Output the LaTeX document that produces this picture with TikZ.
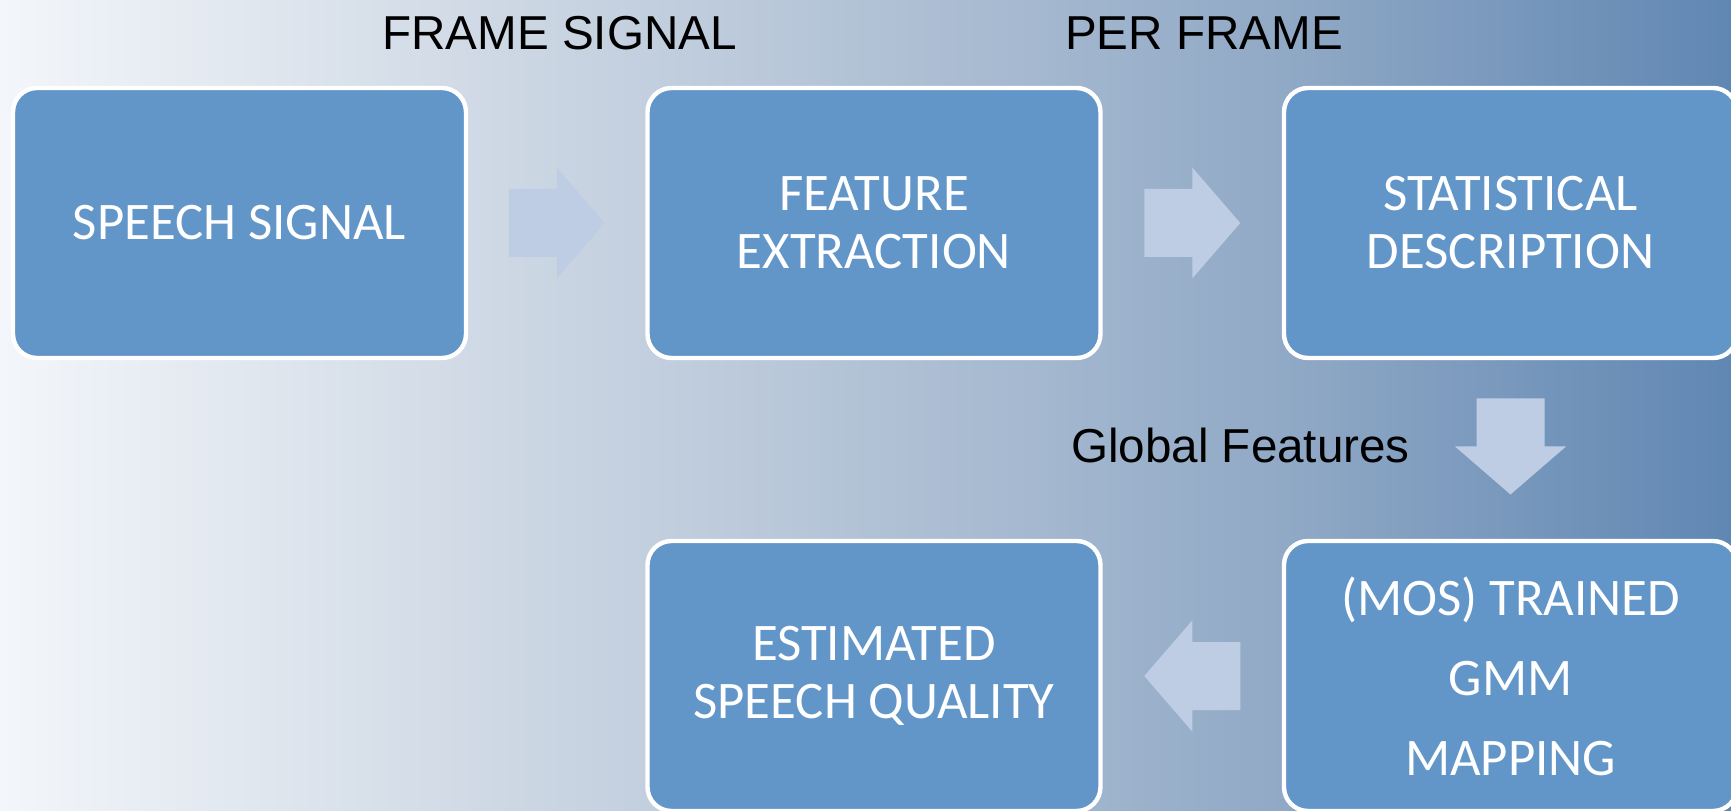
\documentclass[tikz,border=0pt]{standalone}
\usepackage{fontspec}
\setmainfont{Carlito}
\newfontfamily\labelfont{Liberation Sans}
\usetikzlibrary{calc}

\definecolor{bg0}{HTML}{F3F6FA}
\definecolor{bg1}{HTML}{D3DCE7}
\definecolor{bg2}{HTML}{B2C2D6}
\definecolor{bg3}{HTML}{8FA8C5}
\definecolor{bg4}{HTML}{6087B3}
\definecolor{boxblue}{HTML}{6295C8}
\definecolor{arrowfill}{HTML}{BECDE4}

% left-to-right background blend
\pgfdeclarehorizontalshading{bgshade}{100bp}{%
  color(0bp)=(bg0); color(25bp)=(bg0); color(37.5bp)=(bg1);
  color(50bp)=(bg2); color(62.5bp)=(bg3); color(75bp)=(bg4);
  color(100bp)=(bg4)}

\tikzset{
  stage/.style={draw=white, line width=2.2pt, fill=boxblue,
    rounded corners=12pt, minimum width=226.5pt, minimum height=135pt,
    inner sep=0pt, align=center, text=white,
    font=\fontsize{26.4}{29}\selectfont},
  tall/.style={font=\fontsize{26.4}{40}\selectfont},
  lbl/.style={font=\labelfont\fontsize{23.8}{28}\selectfont, text=black,
    inner sep=0pt, anchor=base},
  blockarrow/.pic={
    \fill[arrowfill] (-48,-34) -- (0,-34) -- (0,-55.5) -- (48,0)
      -- (0,55.5) -- (0,34) -- (-48,34) -- cycle;}
}

\begin{document}
\begin{tikzpicture}[x=0.5pt, y=0.5pt]
  \useasboundingbox (0,0) rectangle (1731,810);
  \clip (0,0) rectangle (1731,810);
  \shade[shading=bgshade] (0,0) rectangle (1731,810);

  % processing stages
  \node[stage] (speech)  at (239.5,587) {SPEECH SIGNAL};
  \node[stage] (feat)    at (874,587)   {FEATURE\\EXTRACTION};
  \node[stage] (stat)    at (1510.5,587) {STATISTICAL\\DESCRIPTION};
  \node[stage] (quality) at (874,134)   {ESTIMATED\\SPEECH QUALITY};
  \node[stage, tall] (gmm) at (1510.5,134) {(MOS) TRAINED\\GMM\\MAPPING};

  % block arrows between stages
  \pic at ($(speech.east)!0.5!(feat.west)$) {blockarrow};
  \pic at ($(feat.east)!0.5!(stat.west)$) {blockarrow};
  \pic[rotate=-90] at ($(stat.south)!0.5!(gmm.north)+(0,3)$) {blockarrow};
  \pic[rotate=180] at ($(gmm.west)!0.5!(quality.east)$) {blockarrow};

  % annotations
  \node[lbl] (lframe)  at (559.5,760) {FRAME SIGNAL};
  \node[lbl] (lper)    at (1204,760)  {PER FRAME};
  \node[lbl] (lglobal) at (1240.5,347) {Global Features};
\end{tikzpicture}
\end{document}
